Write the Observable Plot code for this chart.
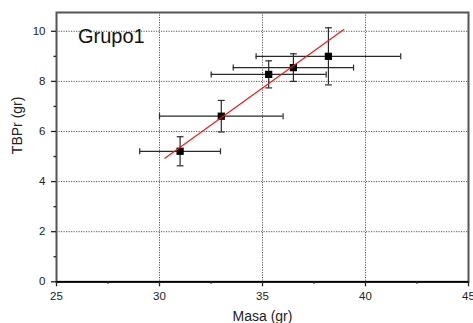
<!DOCTYPE html>
<html>
<head>
<meta charset="utf-8">
<script src="https://cdn.jsdelivr.net/npm/d3@7"></script>
<script src="https://cdn.jsdelivr.net/npm/@observablehq/plot@0.6"></script>
<style>
  html, body { margin: 0; padding: 0; background: white; }
</style>
</head>
<body>
<div id="chart"></div>
<script>
// Data
const masa     = [31.0, 33.0, 35.3, 36.5, 38.2];
const tbpr     = [5.21, 6.61, 8.28, 8.55, 9.00];
const masaErr  = [1.96, 3.00, 2.79, 2.92, 3.51];
const tbprErr  = [0.58, 0.63, 0.54, 0.55, 1.14];
const fitMasa  = [30.26, 38.95];
const fitTbpr  = [4.93, 10.07];
const xTicks   = [25, 30, 35, 40, 45];
const xMinor   = [27.5, 32.5, 37.5, 42.5];
const yTicks   = [0, 2, 4, 6, 8, 10];
const yMinor   = [1, 3, 5, 7, 9];
const xGrid    = [30, 35, 40];
const yGrid    = [2, 4, 6, 8, 10];
const title    = "Grupo1";
const xLabel   = "Masa (gr)";
const yLabel   = "TBPr (gr)";

const rows = masa.map((m, i) => ({masa: m, tbpr: tbpr[i], ex: masaErr[i], ey: tbprErr[i]}));
const fit = fitMasa.map((m, i) => ({masa: m, tbpr: fitTbpr[i]}));

const vbar = {draw(ctx, size) { const r = Math.sqrt(size / Math.PI); ctx.moveTo(0, -r); ctx.lineTo(0, r); }};
const hbar = {draw(ctx, size) { const r = Math.sqrt(size / Math.PI); ctx.moveTo(-r, 0); ctx.lineTo(r, 0); }};

const errColor = "#2a2a2a";

const chart = Plot.plot({
  width: 473,
  height: 323,
  marginLeft: 56,
  marginRight: 5,
  marginTop: 12,
  marginBottom: 41.7,
  x: {domain: [25, 45], label: null},
  y: {domain: [0, 10.75], label: null},
  style: {fontFamily: "'Liberation Sans', Arial, sans-serif", fontSize: "11.5px", color: "#222", background: "white"},
  marks: [
    Plot.gridX(xGrid, {stroke: "#555", strokeOpacity: 1, strokeDasharray: "1.2,1.3"}),
    Plot.gridY(yGrid, {stroke: "#555", strokeOpacity: 1, strokeDasharray: "1.2,1.3"}),
    Plot.frame({stroke: "#555", strokeWidth: 2}),
    Plot.ruleY([0], {stroke: "black", strokeWidth: 1.8}),
    Plot.axisX(xTicks, {tickSize: 5, tickPadding: 5.5, stroke: "#222", strokeWidth: 1.3}),
    Plot.axisX(xMinor, {tickSize: 2.5, tickFormat: () => "", stroke: "#222", strokeWidth: 1.3}),
    Plot.axisY(yTicks, {tickSize: 5, tickPadding: 6, stroke: "#222", strokeWidth: 1.3}),
    Plot.axisY(yMinor, {tickSize: 2.5, tickFormat: () => "", stroke: "#222", strokeWidth: 1.3}),
    // error bars
    Plot.ruleY(rows, {y: "tbpr", x1: d => d.masa - d.ex, x2: d => d.masa + d.ex, stroke: errColor, strokeWidth: 1.2}),
    Plot.ruleX(rows, {x: "masa", y1: d => d.tbpr - d.ey, y2: d => d.tbpr + d.ey, stroke: errColor, strokeWidth: 1.2}),
    Plot.dot(rows, {x: d => d.masa - d.ex, y: "tbpr", symbol: vbar, r: 3, stroke: errColor, fill: "none", strokeWidth: 1.2}),
    Plot.dot(rows, {x: d => d.masa + d.ex, y: "tbpr", symbol: vbar, r: 3, stroke: errColor, fill: "none", strokeWidth: 1.2}),
    Plot.dot(rows, {x: "masa", y: d => d.tbpr - d.ey, symbol: hbar, r: 3.4, stroke: errColor, fill: "none", strokeWidth: 1.2}),
    Plot.dot(rows, {x: "masa", y: d => d.tbpr + d.ey, symbol: hbar, r: 3.4, stroke: errColor, fill: "none", strokeWidth: 1.2}),
    // markers
    Plot.dot(rows, {x: "masa", y: "tbpr", symbol: "square", r: 4.1, fill: "black", stroke: "none"}),
    // fit line
    Plot.line(fit, {x: "masa", y: "tbpr", stroke: "#ff1010", strokeWidth: 1.1}),
    // texts
    Plot.text([title], {frameAnchor: "top-left", dx: 21.5, dy: 24.5, textAnchor: "start", lineAnchor: "middle", fontSize: 20, fill: "#111"}),
    Plot.text([xLabel], {frameAnchor: "bottom", dy: 35, lineAnchor: "middle", fontSize: 14, fill: "#222"}),
    Plot.text([yLabel], {frameAnchor: "left", dx: -38.5, dy: 7, rotate: -90, lineAnchor: "middle", fontSize: 14, fill: "#222"})
  ]
});
document.getElementById("chart").appendChild(chart);
</script>
</body>
</html>
